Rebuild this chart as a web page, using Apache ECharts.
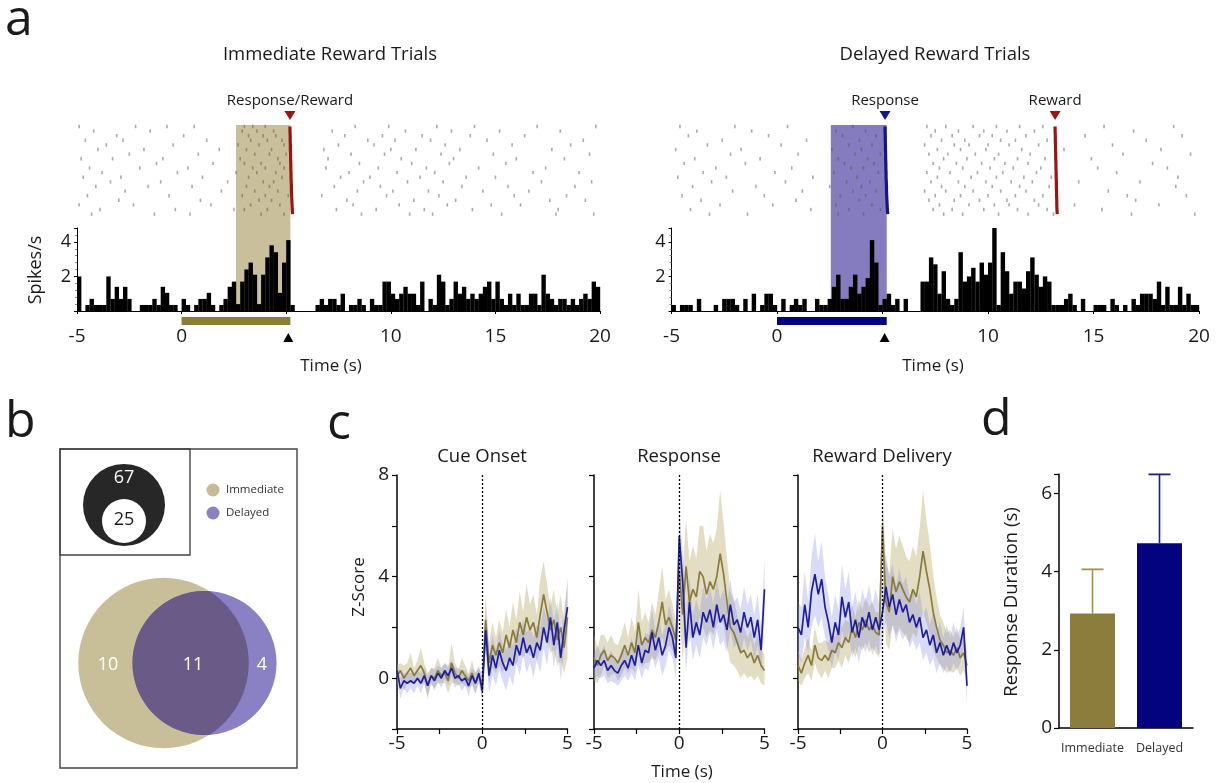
<!DOCTYPE html>
<html><head><meta charset="utf-8">
<script src="https://cdn.jsdelivr.net/npm/echarts@6/dist/echarts.min.js"></script>
<style>html,body{margin:0;padding:0;background:#fff}#c{width:1219px;height:783px}</style>
</head><body><div id="c"></div>
<script>
// ---------------- DATA ----------------
// Panel a: PSTH (spikes/s), 0.2 s bins starting at -5 s
const binStart = -5, binWidth = 0.2;
const psthImmediate = [
 2.0,0,0.35,0.7,0.35,0.35,0.35,2.0,0.7,1.4,
 0.7,1.4,0.7,0,0,0.35,0.35,0.35,0.7,0.35,
 1.4,1.05,0.35,0.35,0,0.7,0.35,0,0.35,0.7,
 0.7,1.05,0.35,0,0.35,0.7,1.4,1.7,0.4,1.7,
 2.4,2.8,2.1,0.4,2.1,3.1,3.8,3.4,1.05,2.8,
 4.1,0.35,0,0,0,0,0,0.35,0.7,0.35,
 0.7,0.7,0.35,1.0,0,0.35,0.35,0.7,0.35,0,
 0.7,0.35,0.35,1.7,1.7,1.0,0.7,1.0,1.4,1.0,
 1.0,0.35,1.7,0,0.7,0.35,2.1,1.7,0.35,0.7,
 1.7,1.0,1.4,0.7,1.0,0.7,1.0,1.4,1.7,0.7,
 1.7,0.7,0.35,1.0,0.35,1.0,0.35,0.35,1.0,1.0,
 0.35,2.1,1.0,0.7,0.35,0.7,0.7,0.35,0.7,0.35,
 0.7,1.0,0.7,1.7,1.4];
const psthDelayed = [
 0.35,0,0.35,0.35,0.35,0,0.7,0,0,0,
 0.35,0,0.7,0.7,0.7,0.35,0,0.7,0,1.0,
 0,0.35,1.0,1.0,0.35,0,0.7,0,0.35,0.7,
 0.35,0.7,0,0,0.7,0.35,0.35,0.7,1.4,2.1,
 0.7,0.7,1.4,2.1,1.0,1.4,1.9,4.1,2.8,0.35,
 0.7,1.0,0.35,0.7,0,0.7,0,0,0,1.7,
 1.7,3.1,2.7,1.0,2.3,0.7,0.35,0.7,3.4,1.7,
 2.0,2.5,1.7,2.8,2.1,2.8,4.8,0.35,3.4,2.3,
 1.0,1.7,1.7,1.3,2.3,3.1,2.1,1.4,2.0,1.7,
 0.35,0.35,0.35,0.7,1.0,0.35,0,0.7,0,0,
 0.35,0.35,0.35,0,0.7,0.35,0,0.35,0,0.7,
 0.35,1.0,1.0,1.0,0.7,1.7,0.35,1.4,0.35,0.35,
 1.4,0.35,1.0,0.35,0.35];

// Raster spike times (s), one list per trial
const rasterImmediate = [
 [-4.9,-2.2,-0.7,0.6,3.0,3.4,4.0,8.3,9.9,12.2,14.0,17.0,19.8],
 [-4.2,-1.5,2.9,3.6,4.4,7.2,10.7,12.9,15.2,18.1],
 [-3.1,0.1,3.2,3.9,4.5,7.8,9.6,11.5,13.8,16.4],
 [-4.6,-2.8,1.2,3.3,4.1,4.8,8.9,10.2,11.9,14.6,19.2],
 [-3.6,-0.4,2.7,3.7,4.9,7.5,9.2,12.6,15.8,18.6],
 [-4.0,-1.8,1.8,3.1,4.3,6.8,10.0,11.2,13.3,17.7],
 [-2.5,0.8,3.5,4.2,5.0,8.1,9.7,12.4,14.9,19.5],
 [-4.8,-3.3,-0.9,2.8,4.6,7.0,10.5,13.0,16.0,18.3],
 [-1.2,1.5,3.0,3.8,4.7,8.5,11.0,12.8,15.5],
 [-4.4,-2.0,0.3,3.4,4.0,4.9,6.9,9.4,11.7,14.2,17.4],
 [-3.8,-0.2,2.6,3.6,4.5,8.0,10.3,12.1,16.8,19.0],
 [-4.7,-2.9,1.0,3.2,4.8,7.6,9.0,11.4,13.6,15.0],
 [-3.4,-1.0,2.2,3.9,4.4,8.7,10.8,12.5,17.2,19.6],
 [-4.1,-1.6,0.5,3.1,4.2,7.3,9.5,13.4,15.6,18.8],
 [-2.7,1.9,3.5,4.6,8.4,10.1,11.8,14.4,16.6],
 [-4.5,-0.6,2.9,4.0,5.1,6.7,9.8,12.3,15.9,18.4],
 [-3.0,0.9,3.7,4.3,7.9,11.1,13.1,17.6,19.3],
 [-4.9,-2.3,1.4,3.3,4.7,8.2,10.4,12.7,14.8,16.2],
 [-3.9,-0.3,2.5,3.0,4.1,7.4,9.3,11.6,13.9,18.0],
 [-4.3,-1.3,0.4,3.8,4.9,8.6,10.9,12.0,15.3,17.9,19.7]];
const rasterDelayed = [
 [-4.6,-2.0,0.5,3.6,7.1,8.0,9.3,10.4,11.5,12.6,15.5,18.8],
 [-3.8,-1.2,2.8,4.2,7.5,8.6,9.8,10.9,12.2,16.9],
 [-4.2,-0.4,3.1,4.7,7.3,8.3,9.6,10.2,11.8,14.6,19.2],
 [-2.6,1.4,3.9,7.8,8.9,10.6,11.3,12.8,17.5],
 [-3.3,0.2,3.4,4.5,7.0,8.4,9.1,10.0,11.0,12.4,15.9],
 [-4.8,-1.7,2.6,4.0,7.6,8.7,9.9,11.6,13.6,18.2],
 [-2.2,1.0,3.7,4.9,7.2,8.1,9.4,10.5,12.0,16.4,19.6],
 [-3.9,-0.8,2.9,4.3,7.9,9.0,10.3,11.4,12.7,14.9],
 [-4.4,-1.5,3.2,4.6,7.4,8.5,9.7,10.8,11.9,17.8],
 [-2.9,0.7,3.5,4.1,7.7,8.8,10.1,11.2,12.5,15.2,18.5],
 [-3.5,-0.1,2.7,4.8,7.1,8.2,9.5,10.7,12.3,16.1],
 [-4.7,-2.4,1.7,3.8,7.6,9.2,10.4,11.7,13.0,19.0],
 [-3.1,0.4,3.3,4.4,7.3,8.6,9.9,11.1,12.1,14.3,17.2],
 [-4.0,-1.0,2.5,4.0,7.8,8.9,10.2,11.5,12.9,18.9],
 [-2.1,1.2,3.6,4.7,7.0,8.0,9.3,10.6,11.8,15.7],
 [-4.5,-0.6,3.0,4.2,7.5,8.7,10.0,11.3,12.6,16.6,19.4],
 [-3.6,0.9,3.9,7.2,8.4,9.6,10.9,12.2,17.0],
 [-2.7,-0.2,2.8,4.5,7.7,9.1,10.3,11.0,12.4,14.1,18.1],
 [-4.1,1.6,3.4,4.9,7.4,8.3,9.8,11.4,12.8,15.4],
 [-3.2,-1.4,2.9,4.1,7.9,8.8,10.5,11.9,13.1,16.8,19.8]];

// per-trial event times (s)
const responseImmediate = [5.18,5.18,5.19,5.19,5.2,5.2,5.21,5.21,5.22,5.22,5.23,5.23,5.24,5.25,5.25,5.26,5.27,5.28,5.29,5.31];
const responseDelayed   = [5.12,5.12,5.13,5.13,5.14,5.14,5.15,5.15,5.16,5.16,5.17,5.17,5.18,5.19,5.19,5.2,5.21,5.22,5.23,5.25];
const rewardDelayed     = [13.18,13.18,13.19,13.19,13.2,13.2,13.21,13.21,13.22,13.22,13.23,13.23,13.24,13.24,13.25,13.25,13.26,13.26,13.27,13.28];
const shadeImmediate = [2.6, 5.2];
const shadeDelayed = [2.55, 5.2];
const cueBarImmediate = [0, 5.2];
const cueBarDelayed = [0, 5.2];
const responseMark = 5.1;
const xTicksA = [-5, 0, 10, 15, 20];

// Panel b: counts
const totalNeurons = 67, responsiveNeurons = 25;
const vennCounts = {immediateOnly: 10, both: 11, delayedOnly: 4};
const vennLegend = ['Immediate', 'Delayed'];

// Panel c: z-scores, 0.2 s steps
const zTime = [-5,-4.8,-4.6,-4.4,-4.2,-4,-3.8,-3.6,-3.4,-3.2,-3,-2.8,-2.6,-2.4,-2.2,-2,-1.8,-1.6,-1.4,-1.2,-1,-0.8,-0.6,-0.4,-0.2,0,
 0.2,0.4,0.6,0.8,1,1.2,1.4,1.6,1.8,2,2.2,2.4,2.6,2.8,3,3.2,3.4,3.6,3.8,4,4.2,4.4,4.6,4.8,5];
const cueImmediate = [0.1,0.3,0.0,0.2,0.4,0.1,0.3,0.5,0.2,-0.3,0.1,0.0,0.3,0.1,0.2,-0.1,0.6,0.2,0.0,0.3,0.1,-0.1,0.2,-0.2,0.1,-0.3,
 2.3,0.6,1.3,0.9,1.4,1.0,1.7,1.2,1.9,1.4,2.2,1.7,2.4,1.9,2.2,1.6,2.5,3.3,2.6,1.9,2.3,1.5,2.0,1.2,2.4];
const cueDelayed = [0.3,-0.4,-0.1,-0.2,-0.1,-0.2,0.0,-0.2,0.1,-0.3,0.1,-0.1,0.2,0.0,0.3,0.1,0.4,0.0,0.1,-0.1,0.0,-0.3,0.1,-0.2,0.2,-0.5,
 1.9,0.1,0.9,0.4,1.1,0.6,0.3,0.8,0.5,1.3,0.9,1.6,1.0,1.3,0.8,1.4,1.1,2.0,1.4,2.4,1.3,2.2,0.8,1.9,2.8];
const respImmediate = [0.8,0.5,0.9,1.1,0.7,0.9,0.8,0.6,0.9,1.3,0.9,1.4,1.0,2.2,1.3,1.6,1.4,1.9,1.6,2.2,3.0,2.1,2.4,2.0,1.5,4.2,
 2.5,4.4,3.0,3.5,3.2,4.2,4.0,3.3,3.8,3.5,4.0,4.9,4.1,3.0,2.0,1.8,1.4,1.0,1.1,0.8,1.0,0.6,0.9,0.5,0.3];
const respDelayed = [0.4,0.7,0.5,0.7,0.3,0.5,0.3,0.2,0.5,0.7,0.4,0.9,0.5,1.3,0.6,1.1,1.0,1.8,1.1,1.6,0.9,1.3,2.0,1.6,0.8,5.6,
 3.8,1.2,3.0,1.6,2.2,1.7,2.6,2.2,2.7,2.0,2.9,2.2,2.5,1.9,2.9,2.1,2.3,1.8,2.6,2.0,2.4,1.6,2.3,1.1,3.5];
const rewImmediate = [0.5,0.2,0.6,0.9,0.5,1.3,0.8,0.7,0.9,0.7,1.1,1.0,1.4,1.2,1.6,1.4,2.0,1.6,2.2,1.9,2.3,1.9,2.1,1.8,1.7,6.0,
 3.0,2.6,4.0,3.4,3.8,3.5,3.2,3.0,3.5,3.2,4.0,5.0,4.2,3.5,2.6,2.0,1.5,1.3,1.0,1.1,0.9,1.2,0.8,1.0,0.5];
const rewDelayed = [2.0,1.7,2.9,2.0,3.4,4.1,3.3,3.9,2.8,2.2,1.4,2.2,1.7,3.2,2.4,3.0,1.8,2.3,1.6,2.4,2.0,2.6,1.9,2.4,1.9,2.6,
 3.6,2.8,3.3,2.5,3.1,2.6,2.9,2.2,2.5,2.0,2.4,1.6,1.9,1.3,1.7,1.0,1.4,0.9,1.3,0.9,1.4,1.0,1.3,2.0,-0.3];
const semCueImmediate = [0.4,0.3,0.5,0.4,0.6,0.3,0.4,0.7,0.4,0.5,0.3,0.4,0.5,0.3,0.4,0.5,0.8,0.4,0.3,0.5,0.4,0.3,0.5,0.4,0.3,0.5,
 1.0,0.8,0.9,0.7,0.9,0.8,1.0,0.8,1.1,0.9,1.2,0.9,1.3,1.0,1.1,0.9,1.4,1.3,1.1,0.9,1.2,1.0,1.3,1.0,1.6];
const semCueDelayed = [0.4,0.4,0.3,0.4,0.3,0.4,0.3,0.4,0.3,0.4,0.3,0.4,0.3,0.4,0.3,0.4,0.3,0.4,0.3,0.4,0.3,0.4,0.3,0.4,0.3,0.4,
 0.8,0.7,0.8,0.7,0.8,0.7,0.8,0.7,0.8,0.7,0.8,0.7,0.8,0.7,0.8,0.7,0.9,0.8,0.9,0.8,0.9,0.8,0.9,0.8,1.0];
const semRespImmediate = [0.9,0.7,0.8,0.6,0.7,0.8,0.6,0.7,0.8,0.9,0.7,1.0,0.8,1.3,0.9,1.0,0.8,1.1,0.9,1.2,1.4,1.0,1.1,0.9,0.8,1.6,
 1.8,1.9,1.6,1.7,1.5,1.8,2.0,1.7,1.9,1.8,1.9,2.5,2.0,1.7,1.4,1.3,1.1,1.0,0.9,0.8,0.9,0.7,0.8,0.7,0.6];
const semRespDelayed = [0.5,0.6,0.5,0.6,0.5,0.6,0.5,0.5,0.6,0.6,0.5,0.7,0.6,0.8,0.6,0.7,0.7,0.9,0.7,0.8,0.8,0.8,0.9,0.8,0.8,1.1,
 1.2,1.0,1.0,0.9,0.9,0.9,1.0,0.9,0.9,0.9,1.0,0.9,1.0,0.9,1.0,0.9,0.9,0.9,1.0,0.9,0.9,0.9,1.0,0.9,1.2];
const semRewImmediate = [0.6,0.5,0.6,0.7,0.6,0.7,0.6,0.7,0.6,0.7,0.7,0.6,0.7,0.8,0.7,0.8,0.9,0.8,0.9,0.8,0.9,0.9,0.9,0.8,0.9,1.2,
 1.6,1.5,1.9,1.7,1.8,1.7,1.6,1.6,1.7,1.6,1.9,2.4,2.0,1.8,1.5,1.2,1.0,0.9,0.8,0.8,0.7,0.8,0.7,0.7,0.6];
const semRewDelayed = [1.0,1.1,1.3,1.0,1.4,1.6,1.3,1.5,1.2,1.1,1.0,1.1,1.0,1.3,1.1,1.2,1.0,1.1,1.0,1.1,1.0,1.1,1.0,1.1,1.0,1.2,
 1.3,1.2,1.2,1.1,1.2,1.1,1.1,1.0,1.0,0.9,1.0,0.9,0.9,0.8,0.9,0.8,0.8,0.7,0.8,0.7,0.8,0.7,0.7,0.8,0.7];
const cTitles = ['Cue Onset', 'Response', 'Reward Delivery'];

// Panel d
const durCategories = ['Immediate', 'Delayed'];
const durMean = [2.93, 4.73];
const durErr = [1.13, 1.76];

// ---------------- STYLE ----------------
const FONT = '"Open Sans", "Noto Sans", sans-serif';
const TXT = '#1a1a1a';
const TAN_SHADE = '#c9bf9a', PURPLE_SHADE = '#857bbf';
const TAN_DARK = '#8c7d3c', NAVY = '#03037f';
const RED = '#9a1414', BLUE_EV = '#14148c';

const chart = echarts.init(document.getElementById('c'), null, {renderer: 'canvas'});

const gridsA = [
  {left: 77, top: 108, width: 523, height: 120},
  {left: 77, top: 228, width: 523, height: 83},
  {left: 671.5, top: 108, width: 527.5, height: 120},
  {left: 671.5, top: 228, width: 527.5, height: 83}
];
const gridsC = [
  {left: 397, top: 475, width: 170.5, height: 254},
  {left: 594, top: 475, width: 170.5, height: 254},
  {left: 798, top: 475, width: 169, height: 254}
];
const gridD = {left: 1059, top: 474, width: 134, height: 254};

const xAxes = [], yAxes = [];
function rasterAxes(g) {
  xAxes.push({gridIndex: g, type: 'value', min: -5, max: 20, show: false});
  yAxes.push({gridIndex: g, type: 'value', min: -3, max: 23, inverse: true, show: false});
}
function psthAxes(g) {
  xAxes.push({gridIndex: g, type: 'value', min: -5, max: 20, interval: 5,
    axisLine: {onZero: false, lineStyle: {color: '#000', width: 1.2}},
    axisTick: {show: true, length: 3, lineStyle: {color: '#000'}},
    axisLabel: {fontSize: 19, color: TXT, fontFamily: FONT, margin: 16,
      formatter: v => xTicksA.indexOf(v) >= 0 ? String(v) : ''},
    splitLine: {show: false}});
  yAxes.push({gridIndex: g, type: 'value', min: 0, max: 4.8, interval: 2,
    axisLine: {show: true, onZero: false, lineStyle: {color: '#000', width: 1}},
    axisTick: {show: true, length: 3, lineStyle: {color: '#000'}},
    minorTick: {show: true, splitNumber: 5, length: 2, lineStyle: {color: '#888'}},
    axisLabel: {fontSize: 18, color: TXT, fontFamily: FONT, margin: 6,
      formatter: v => (v === 2 || v === 4) ? String(v) : ''},
    splitLine: {show: false}});
}
rasterAxes(0); psthAxes(1); rasterAxes(2); psthAxes(3);
for (let k = 0; k < 3; k++) {
  const g = 4 + k;
  xAxes.push({gridIndex: g, type: 'value', min: -5, max: 5, interval: 2.5,
    axisLine: {onZero: false, lineStyle: {color: '#000', width: 1.5}},
    axisTick: {show: true, length: 5, lineStyle: {color: '#000', width: 1.2}},
    axisLabel: {fontSize: 19, color: TXT, fontFamily: FONT, margin: 5,
      formatter: v => (v === -5 || v === 0 || v === 5) ? String(v) : ''},
    splitLine: {show: false}});
  yAxes.push({gridIndex: g, type: 'value', min: -2, max: 8, interval: 2,
    axisLine: {show: true, onZero: false, lineStyle: {color: '#000', width: 1.5}},
    axisTick: {show: true, length: 5, lineStyle: {color: '#000', width: 1.2}},
    axisLabel: {show: k === 0, fontSize: 19, color: TXT, fontFamily: FONT, margin: 8,
      formatter: v => (v === 0 || v === 4 || v === 8) ? String(v) : ''},
    splitLine: {show: false}});
}
xAxes.push({gridIndex: 7, type: 'category', data: durCategories,
  axisLine: {lineStyle: {color: '#000', width: 1.5}}, axisTick: {show: false},
  axisLabel: {interval: 0, fontSize: 12.5, color: '#333', fontFamily: FONT, margin: 14}});
yAxes.push({gridIndex: 7, type: 'value', min: 0, max: 6.5, interval: 2,
  axisLine: {show: true, onZero: false, lineStyle: {color: '#000', width: 1.5}},
  axisTick: {show: true, length: 5, lineStyle: {color: '#000', width: 1.2}},
  axisLabel: {fontSize: 19, color: TXT, fontFamily: FONT, margin: 7,
    formatter: v => (v % 2 === 0) ? String(v) : ''},
  splitLine: {show: false}});

const series = [];

function shadeSeries(ax, win, yTop, yBot, color) {
  return {type: 'custom', xAxisIndex: ax, yAxisIndex: ax, silent: true, z: 1,
    data: [[win[0], win[1]]], encode: {x: [0, 1]},
    renderItem: (p, api) => {
      const a = api.coord([api.value(0), yTop]), b = api.coord([api.value(1), yBot]);
      return {type: 'rect', shape: {x: a[0], y: Math.min(a[1], b[1]), width: b[0] - a[0], height: Math.abs(b[1] - a[1])},
        style: {fill: color}};
    }};
}
function histSeries(ax, vals) {
  return {type: 'custom', xAxisIndex: ax, yAxisIndex: ax, silent: true, z: 3,
    data: vals.map((v, i) => [binStart + i * binWidth, v]), encode: {x: 0, y: 1},
    renderItem: (p, api) => {
      const t = api.value(0), v = api.value(1);
      if (!(v > 0)) return;
      const a = api.coord([t, v]), b = api.coord([t + binWidth, 0]);
      return {type: 'rect', shape: {x: a[0], y: a[1], width: b[0] - a[0] + 0.2, height: b[1] - a[1]}, style: {fill: '#000'}};
    }};
}
function rasterSeries(ax, trials) {
  const d = [];
  trials.forEach((ts, i) => ts.forEach(t => d.push([t, i + 1])));
  return {type: 'scatter', xAxisIndex: ax, yAxisIndex: ax, silent: true, z: 3, data: d,
    symbol: 'rect', symbolSize: [1.6, 3.4], itemStyle: {color: '#555', opacity: 0.5}};
}
function eventLine(ax, times, color) {
  return {type: 'line', xAxisIndex: ax, yAxisIndex: ax, silent: true, z: 5,
    data: times.map((t, i) => [t, i + 1]), showSymbol: false, symbol: 'none',
    lineStyle: {color: color, width: 3.2}};
}
function eventMarker(ax, t, color, label) {
  return {type: 'scatter', xAxisIndex: ax, yAxisIndex: ax, silent: true, z: 6,
    data: [[t, -1.35]], symbol: 'triangle', symbolRotate: 180, symbolSize: [11, 9],
    itemStyle: {color: color, opacity: 1},
    label: {show: true, position: 'top', distance: 3, formatter: label, fontSize: 15, color: TXT, fontFamily: FONT}};
}
function cueBarSeries(ax, span, color) {
  return {type: 'custom', xAxisIndex: ax, yAxisIndex: ax, silent: true, clip: false, z: 4,
    data: [[span[0], span[1]]], encode: {x: [0, 1]},
    renderItem: (p, api) => {
      const a = api.coord([api.value(0), 0]), b = api.coord([api.value(1), 0]);
      return {type: 'rect', shape: {x: a[0], y: a[1] + 6, width: b[0] - a[0], height: 8}, style: {fill: color}};
    }};
}
function respMarkSeries(ax, t) {
  return {type: 'custom', xAxisIndex: ax, yAxisIndex: ax, silent: true, clip: false, z: 4,
    data: [[t, 0]], encode: {x: 0, y: 1},
    renderItem: (p, api) => {
      const a = api.coord([api.value(0), 0]);
      return {type: 'polygon', shape: {points: [[a[0] - 5, a[1] + 31], [a[0] + 5, a[1] + 31], [a[0], a[1] + 22]]}, style: {fill: '#000'}};
    }};
}

// Panel a left
series.push(shadeSeries(0, shadeImmediate, 0.7, 23, TAN_SHADE));
series.push(shadeSeries(1, shadeImmediate, 4.8, 0, TAN_SHADE));
series.push(rasterSeries(0, rasterImmediate));
series.push(histSeries(1, psthImmediate));
series.push(eventLine(0, responseImmediate, RED));
series.push(eventMarker(0, responseImmediate[0], RED, 'Response/Reward'));
series.push(cueBarSeries(1, cueBarImmediate, TAN_DARK));
series.push(respMarkSeries(1, responseMark));
// Panel a right
series.push(shadeSeries(2, shadeDelayed, 0.7, 23, PURPLE_SHADE));
series.push(shadeSeries(3, shadeDelayed, 4.8, 0, PURPLE_SHADE));
series.push(rasterSeries(2, rasterDelayed));
series.push(histSeries(3, psthDelayed));
series.push(eventLine(2, responseDelayed, BLUE_EV));
series.push(eventLine(2, rewardDelayed, RED));
series.push(eventMarker(2, responseDelayed[0], BLUE_EV, 'Response'));
series.push(eventMarker(2, rewardDelayed[0], RED, 'Reward'));
series.push(cueBarSeries(3, cueBarDelayed, NAVY));
series.push(respMarkSeries(3, responseMark));

// Panel c
function bandSeries(ax, mean, sem, color) {
  return {type: 'custom', xAxisIndex: ax, yAxisIndex: ax, silent: true, z: 2,
    data: [[zTime[0], mean[0]]], encode: {x: 0, y: 1},
    renderItem: (p, api) => {
      const up = [], lo = [];
      const n = Math.min(zTime.length, mean.length, sem.length);
      for (let i = 0; i < n; i++) {
        up.push(api.coord([zTime[i], mean[i] + sem[i]]));
        lo.push(api.coord([zTime[i], mean[i] - sem[i]]));
      }
      return {type: 'polygon', shape: {points: up.concat(lo.reverse())}, style: {fill: color}};
    }};
}
function meanSeries(ax, mean, color, z, withMark) {
  const s = {type: 'line', xAxisIndex: ax, yAxisIndex: ax, silent: true, z: z,
    data: zTime.map((t, i) => [t, mean[i]]), showSymbol: false, symbol: 'none',
    lineStyle: {color: color, width: 1.7}};
  if (withMark) s.markLine = {silent: true, symbol: 'none', label: {show: false},
    lineStyle: {color: '#000', type: [2, 2], width: 1.3}, data: [{xAxis: 0}]};
  return s;
}
const cSets = [
  [cueImmediate, semCueImmediate, cueDelayed, semCueDelayed],
  [respImmediate, semRespImmediate, respDelayed, semRespDelayed],
  [rewImmediate, semRewImmediate, rewDelayed, semRewDelayed]];
cSets.forEach((s, k) => {
  const ax = 4 + k;
  series.push(bandSeries(ax, s[0], s[1], 'rgba(184,170,108,0.40)'));
  series.push(bandSeries(ax, s[2], s[3], 'rgba(118,128,226,0.28)'));
  series.push(meanSeries(ax, s[0], '#8a7b3c', 3, true));
  series.push(meanSeries(ax, s[2], '#1e1ea2', 4, false));
});

// Panel d
series.push({type: 'bar', xAxisIndex: 7, yAxisIndex: 7, silent: true, barWidth: 45, z: 2,
  data: durMean.map((v, i) => ({value: v, itemStyle: {color: [TAN_DARK, NAVY][i]}}))});
series.push({type: 'custom', xAxisIndex: 7, yAxisIndex: 7, silent: true, z: 3,
  data: durMean.map((v, i) => [i, v, v + durErr[i]]), encode: {x: 0, y: [1, 2]},
  renderItem: (p, api) => {
    const i = api.value(0);
    const a = api.coord([i, api.value(1)]), b = api.coord([i, api.value(2)]);
    const col = ['#a0924f', '#1c1c8a'][i];
    return {type: 'group', children: [
      {type: 'line', shape: {x1: a[0], y1: a[1], x2: b[0], y2: b[1]}, style: {stroke: col, lineWidth: 1.6}},
      {type: 'line', shape: {x1: b[0] - 11, y1: b[1], x2: b[0] + 11, y2: b[1]}, style: {stroke: col, lineWidth: 1.8}}]};
  }});

// ---------------- GRAPHICS (text & Venn) ----------------
const graphic = [];
function txt(x, y, s, size, opts) {
  opts = opts || {};
  graphic.push({type: 'text', x: x, y: y, rotation: opts.rot || 0, silent: true, z: 10,
    style: {text: s, fontSize: size, fontFamily: FONT, fill: opts.color || TXT,
      textAlign: opts.align || 'center', textVerticalAlign: opts.va || 'middle', fontWeight: opts.weight || 'normal'}});
}
// panel letters
txt(5, 21, 'a', 50, {align: 'left'});
txt(5, 423, 'b', 50, {align: 'left'});
txt(327, 425, 'c', 50, {align: 'left'});
txt(981, 421, 'd', 50, {align: 'left'});
// panel a texts
txt(330, 55, 'Immediate Reward Trials', 18.5);
txt(935, 55, 'Delayed Reward Trials', 18.5);
txt(331, 366, 'Time (s)', 17);
txt(933, 366, 'Time (s)', 17);
txt(36, 270, 'Spikes/s', 18, {rot: Math.PI / 2});
// panel c texts
const cCenters = [482, 679, 882];
cTitles.forEach((t, i) => txt(cCenters[i], 457, t, 18.5));
txt(359, 587, 'Z-Score', 17, {rot: Math.PI / 2});
txt(682, 772, 'Time (s)', 17);
// panel d text
txt(1012, 602, 'Response Duration (s)', 18.5, {rot: Math.PI / 2});

// panel b boxes
graphic.push({type: 'rect', shape: {x: 60, y: 449, width: 237, height: 319}, style: {fill: null, stroke: '#444', lineWidth: 1.4}, silent: true});
graphic.push({type: 'rect', shape: {x: 60, y: 449, width: 130, height: 106}, style: {fill: null, stroke: '#444', lineWidth: 1.4}, silent: true});
// nested circles: total vs responsive
const rOuter = 41;
const rInner = 22;
graphic.push({type: 'circle', shape: {cx: 124, cy: 505, r: rOuter}, style: {fill: '#272727'}, silent: true});
graphic.push({type: 'circle', shape: {cx: 124, cy: 521, r: rInner}, style: {fill: '#fff'}, silent: true});
txt(124, 478, String(totalNeurons), 18, {color: '#fff'});
txt(124, 520, String(responsiveNeurons), 18, {color: '#1a1a1a'});
// legend
graphic.push({type: 'circle', shape: {cx: 213, cy: 490, r: 6.5}, style: {fill: '#c5bc94'}, silent: true});
graphic.push({type: 'circle', shape: {cx: 213, cy: 513, r: 6.5}, style: {fill: '#8b80c3'}, silent: true});
txt(226, 490, vennLegend[0], 11.5, {align: 'left', color: '#333'});
txt(226, 513, vennLegend[1], 11.5, {align: 'left', color: '#333'});
// Venn (radius proportional to sqrt of set size)
const kV = 18.6;
const nImm = vennCounts.immediateOnly + vennCounts.both;
const nDel = vennCounts.delayedOnly + vennCounts.both;
const r1 = kV * Math.sqrt(nImm), r2 = kV * Math.sqrt(nDel);
const x1 = 163.5, x2 = 204.5, cyV = 663;
graphic.push({type: 'circle', shape: {cx: x1, cy: cyV, r: r1}, style: {fill: '#c8bf99'}, silent: true});
graphic.push({type: 'circle', shape: {cx: x2, cy: cyV, r: r2}, style: {fill: '#8a80c4'}, silent: true});
(function () {
  const d = x2 - x1;
  const a = (d * d + r1 * r1 - r2 * r2) / (2 * d);
  const h = Math.sqrt(r1 * r1 - a * a);
  const pts = [];
  const phiP = Math.atan2(-h, a - d), phiQ = Math.atan2(h, a - d) - 2 * Math.PI;
  for (let i = 0; i <= 80; i++) {
    const f = phiP + (phiQ - phiP) * i / 80;
    pts.push([x2 + r2 * Math.cos(f), cyV + r2 * Math.sin(f)]);
  }
  const thQ = Math.atan2(h, a), thP = Math.atan2(-h, a);
  for (let i = 0; i <= 60; i++) {
    const f = thQ + (thP - thQ) * i / 60;
    pts.push([x1 + r1 * Math.cos(f), cyV + r1 * Math.sin(f)]);
  }
  graphic.push({type: 'polygon', shape: {points: pts}, style: {fill: '#695a88'}, silent: true});
})();
txt(108, 665, String(vennCounts.immediateOnly), 18, {color: '#fff'});
txt(193, 665, String(vennCounts.both), 18, {color: '#fff'});
txt(262, 665, String(vennCounts.delayedOnly), 18, {color: '#fff'});

chart.setOption({
  animation: false,
  backgroundColor: '#fff',
  textStyle: {fontFamily: FONT},
  grid: gridsA.concat(gridsC).concat([gridD]),
  xAxis: xAxes,
  yAxis: yAxes,
  series: series,
  graphic: graphic
});
</script></body></html>
